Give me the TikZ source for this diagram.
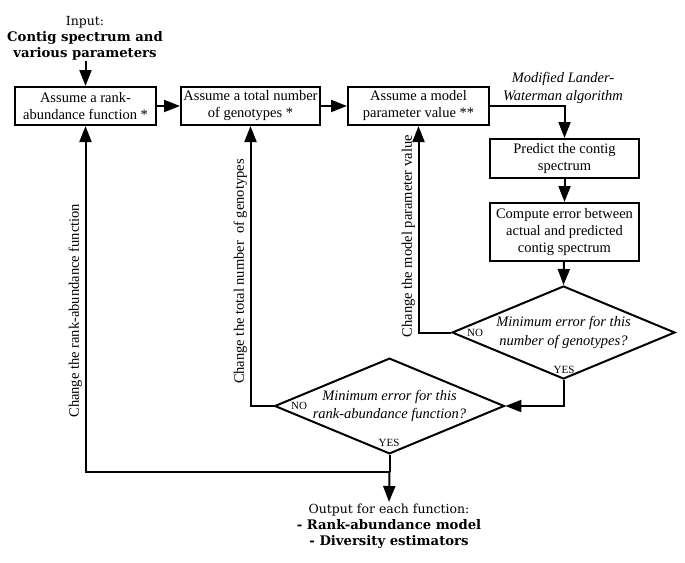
\documentclass[tikz,border=0pt]{standalone}
\usepackage{fontspec}
\setmainfont{Liberation Serif}
\newfontfamily\dvs{DejaVu Serif}
\usetikzlibrary{shapes.geometric,arrows.meta}
\begin{document}
\begin{tikzpicture}[x=1pt,y=-1pt,
  every node/.style={inner sep=0pt},
  txt/.style={font=\fontsize{14.5}{17}\selectfont, align=center},
  box/.style={txt, draw, line width=2pt, minimum height=38pt},
  dia/.style={diamond, draw, line width=2pt, aspect=2.4, font=\fontsize{14.5}{18.5}\selectfont\itshape, align=center},
  small/.style={font=\fontsize{11}{12}\selectfont},
  io/.style={font=\dvs\fontsize{12.5}{16}\selectfont, align=center},
  bf/.style={font=\dvs\bfseries\fontsize{13.2}{16}\selectfont},
  lab/.style={txt, rotate=90, anchor=south, inner sep=2.5pt},
  line/.style={line width=2pt},
  arr/.style={line, -{Triangle[length=16pt,width=12pt]}}]
\useasboundingbox (0,0) rectangle (685,562);

\node[io] (in) at (85,38.5) {Input:\\{\bfseries\fontsize{13.2}{16}\selectfont Contig spectrum and}\\{\bfseries\fontsize{13.2}{16}\selectfont various parameters}};
\node[box, minimum width=141pt] (b1) at (85.5,106) {Assume a rank-\\abundance function *};
\node[box, minimum width=139pt] (b2) at (250.5,106) {Assume a total number\\of genotypes *};
\node[box, minimum width=141pt] (b3) at (418.5,106) {Assume a model\\parameter value **};
\node[txt, font=\fontsize{14.5}{18}\selectfont\itshape] (mlw) at (563,88) {Modified Lander-\\Waterman algorithm};
\node[box, minimum width=149pt, minimum height=39pt] (b4) at (564.5,158.5) {Predict the contig\\spectrum};
\node[box, minimum width=149pt, minimum height=58pt] (b5) at (564.5,232) {Compute error between\\actual and predicted\\contig spectrum};
\node[dia, minimum width=223pt, minimum height=93pt] (d1) at (563.5,332.5) {Minimum error for this\\number of genotypes?};
\node[dia, minimum width=224pt, minimum height=94pt] (d2) at (389.5,406) {Minimum error for this\\rank-abundance function?};
\node[small] (no1) at (475,333) {NO};
\node[small] (yes1) at (564,370) {YES};
\node[small] (no2) at (299,406) {NO};
\node[small] (yes2) at (389,443) {YES};
\node[io] (out) at (389,526) {Output for each function:\\{\bfseries\fontsize{13.2}{16}\selectfont - Rank-abundance model}\\{\bfseries\fontsize{13.2}{16}\selectfont - Diversity estimators}};
\coordinate (j) at (389.5,472);

\draw[arr] (b1.north |- 0,61) -- (b1.north);
\draw[arr] (b1) -- (b2);
\draw[arr] (b2) -- (b3);
\draw[arr] (b3.east) -| (b4.north);
\draw[arr] (b4) -- (b5);
\draw[arr] (b5) -- (d1.north);
\draw[arr] (d1.south) |- (d2.east);
\draw[arr] (d1.west) -| node[lab, pos=0.733] {Change the model parameter value} (b3.south);
\draw[arr] (d2.west) -| node[lab, pos=0.74] {Change the total number\ \ of genotypes} (b2.south);
\draw[line] (d2.south) -- (j);
\draw[arr] (j) -| node[lab, pos=0.733] {Change the rank-abundance function} (b1.south);
\draw[arr] (j) -- (out.north |- 0,502);
\end{tikzpicture}
\end{document}
